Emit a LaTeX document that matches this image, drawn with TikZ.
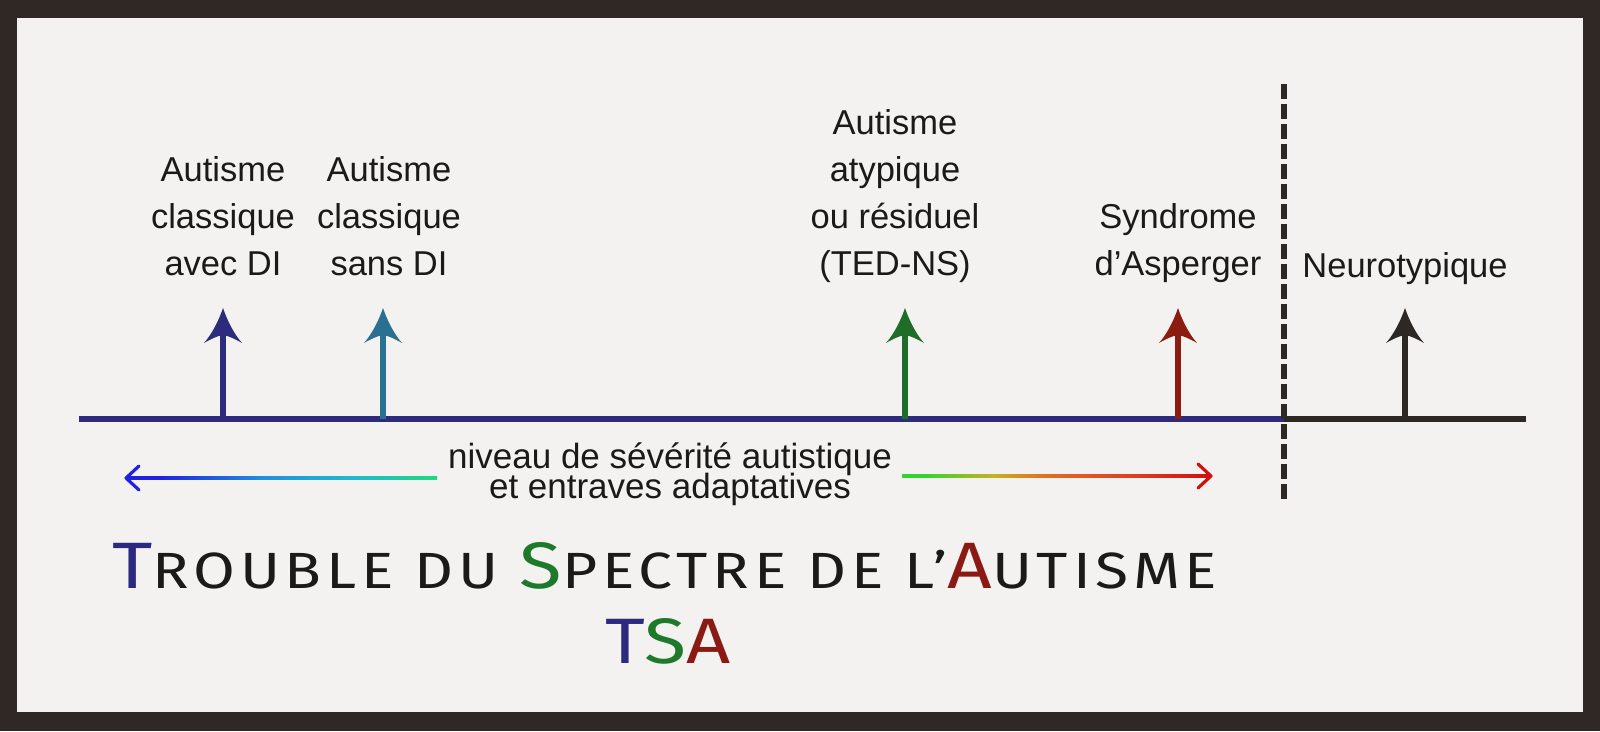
\documentclass[tikz,border=0pt]{standalone}
\usepackage{fontspec}
\setmainfont{Liberation Sans}
\newfontfamily\titlefont{Fira Sans}[LetterSpace=8.0]
\usetikzlibrary{calc}
\newcommand\sevfont{\fontsize{35}{30}\selectfont\lineskiplimit=-100pt\relax}
\definecolor{frame}{HTML}{302824}
\definecolor{paper}{HTML}{F3F2F0}
\definecolor{ink}{HTML}{1C1A18}
\definecolor{navy}{HTML}{2D2C7C}
\definecolor{teal}{HTML}{2A7090}
\definecolor{dgreen}{HTML}{1E6E2A}
\definecolor{dred}{HTML}{8A1C10}
\definecolor{dblack}{HTML}{2E2824}
\definecolor{tnavy}{HTML}{2B2A80}
\definecolor{tgreen}{HTML}{1E7A2A}
\definecolor{tred}{HTML}{8B1A14}
\definecolor{gblue}{HTML}{2020E0}
\definecolor{gsky}{HTML}{2090E0}
\definecolor{gcyan}{HTML}{20B8D0}
\definecolor{ggreen}{HTML}{22D880}
\definecolor{rgreen}{HTML}{34D430}
\definecolor{ryellow}{HTML}{C8B020}
\definecolor{rorange}{HTML}{E07020}
\definecolor{rorred}{HTML}{E04020}
\definecolor{rred}{HTML}{D01010}
\pgfdeclarehorizontalshading{leftgrad}{100bp}{color(0bp)=(gblue); color(30bp)=(gblue); color(47bp)=(gsky); color(61bp)=(gcyan); color(75bp)=(ggreen); color(100bp)=(ggreen)}
\pgfdeclarehorizontalshading{rightgrad}{100bp}{color(0bp)=(rgreen); color(29bp)=(rgreen); color(40bp)=(ryellow); color(48bp)=(rorange); color(62bp)=(rorred); color(75bp)=(rred); color(100bp)=(rred)}
\tikzset{
  lab/.style={font=\fontsize{34.5}{47}\selectfont, text=ink, align=center, inner sep=0pt, anchor=base},
  stem/.style={line width=6.5pt},
  axisline/.style={line width=6pt},
  fin/.pic={\fill[#1] (0,0) .. controls (4,12) and (11,26) .. (19,35) .. controls (12,31) and (6,28) .. (0,27) .. controls (-6,28) and (-12,31) .. (-19,35) .. controls (-11,26) and (-4,12) .. (0,0) -- cycle;},
  gradtip/.style={line width=3.2pt, line cap=round, line join=round}
}
\begin{document}
\begin{tikzpicture}[x=1pt,y=-1pt]
\useasboundingbox (0,0) rectangle (1600,731);
\fill[frame] (0,0) rectangle (1600,731);
\fill[paper] (17,18) rectangle (1583,712);

% axis
\coordinate (axL) at (79,419);
\coordinate (axM) at (1284,419);
\coordinate (axR) at (1526,419);
\draw[axisline, navy] (axL) -- (axM);
\draw[axisline, dblack] (axM) -- (axR);

% dashed separator
\coordinate (dTop) at (1284,84);
\coordinate (dBot) at (1284,503);
\draw[dblack, line width=6pt, dash pattern=on 15pt off 5pt] (dTop) -- (dBot);

% arrows
\coordinate (b1) at (223,419); \coordinate (t1) at (223,308);
\coordinate (b2) at (383,419); \coordinate (t2) at (383,308);
\coordinate (b3) at (905,419); \coordinate (t3) at (905,308);
\coordinate (b4) at (1178,419); \coordinate (t4) at (1178,308);
\coordinate (b5) at (1405,419); \coordinate (t5) at (1405,308);
\draw[stem, navy] (b1) -- ($(t1)+(0,20)$); \pic at (t1) {fin=navy};
\draw[stem, teal] (b2) -- ($(t2)+(0,20)$); \pic at (t2) {fin=teal};
\draw[stem, dgreen] (b3) -- ($(t3)+(0,20)$); \pic at (t3) {fin=dgreen};
\draw[stem, dred] (b4) -- ($(t4)+(0,20)$); \pic at (t4) {fin=dred};
\draw[stem, dblack] (b5) -- ($(t5)+(0,20)$); \pic at (t5) {fin=dblack};

% labels (anchor base = baseline of the last line)
\node[lab] (l1) at (223,275) {Autisme\\classique\\avec DI};
\node[lab] (l2) at (389,275) {Autisme\\classique\\sans DI};
\node[lab] (l3) at (895,275) {Autisme\\atypique\\ou résiduel\\(TED-NS)};
\node[lab] (l4) at (1178,275) {Syndrome\\d’Asperger};
\node[lab] (l5) at (1405,277) {Neurotypique};

% severity text and gradient arrows
\node[lab, font=\sevfont] (sev) at (670,498) {niveau de sévérité autistique\\et entraves adaptatives};
\coordinate (gL1) at (126,478);
\coordinate (gL2) at (437,478);
\coordinate (gR1) at (902,476);
\coordinate (gR2) at (1211,476);
\shade[shading=leftgrad] ($(gL1)+(2,-1.6)$) rectangle ($(gL2)+(0,1.6)$);
\draw[gradtip, gblue] ($(gL1)+(13,-12)$) -- (gL1) -- ($(gL1)+(13,12)$);
\shade[shading=rightgrad] ($(gR1)+(0,-1.6)$) rectangle ($(gR2)+(-2,1.6)$);
\draw[gradtip, rred] ($(gR2)+(-13,-12)$) -- (gR2) -- ($(gR2)+(-13,12)$);

% title
\node[inner sep=0pt, anchor=base west] (title) at (112,588) {\resizebox{1105pt}{46pt}{\titlefont
  {\fontsize{67}{67}\selectfont\color{tnavy}T}{\fontsize{52}{52}\selectfont\color{ink}ROUBLE DU }{\fontsize{67}{67}\selectfont\color{tgreen}S}{\fontsize{52}{52}\selectfont\color{ink}PECTRE DE L’}{\fontsize{67}{67}\selectfont\color{tred}A}{\fontsize{52}{52}\selectfont\color{ink}UTISME}}};
\node[inner sep=0pt, anchor=base] (tsa) at (668,663) {\resizebox{126pt}{45pt}{\titlefont\fontsize{67}{67}\selectfont{\color{tnavy}T}{\color{tgreen}S}{\color{tred}A}}};
\end{tikzpicture}
\end{document}
